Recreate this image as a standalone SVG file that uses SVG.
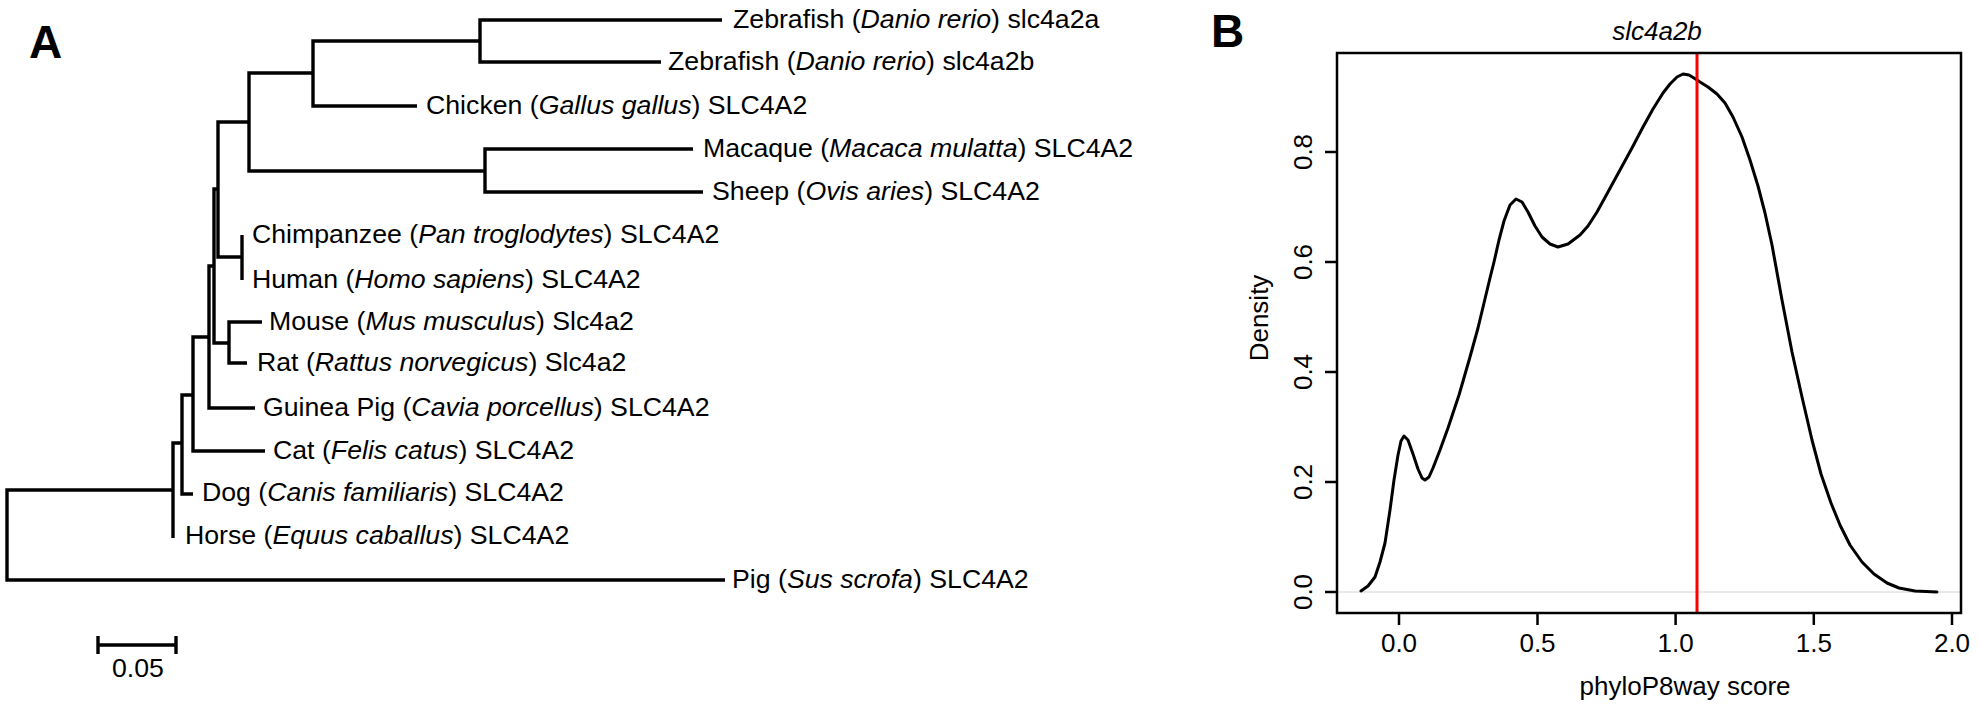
<svg xmlns="http://www.w3.org/2000/svg" width="1980" height="709" viewBox="0 0 1980 709">
<style>
text{font-family:"Liberation Sans",Arial,sans-serif;fill:#000}
.lbl{font-size:26px}
.leaf{font-size:26.7px}
.it{font-style:italic}
.panel{font-size:46px;font-weight:bold}
.br{fill:none;stroke:#000;stroke-width:3.4;stroke-linejoin:miter;stroke-linecap:butt}
.ax{fill:none;stroke:#000;stroke-width:2.5}
</style>
<rect width="1980" height="709" fill="#fff"/>
<text class="panel" x="29" y="58">A</text>
<text class="panel" x="1211" y="47">B</text>

<g id="connectors" class="br">
<path d="M722 20H480V62H661"/>
<path d="M480 41H313V106H417"/>
<path d="M693 149H485V192H703"/>
<path d="M313 73H249V171H485"/>
<path d="M242 235V280"/>
<path d="M249 122H218V257H242"/>
<path d="M262 322H229V363H247"/>
<path d="M218 189H214V343H229"/>
<path d="M214 266H209V408H255"/>
<path d="M209 337H193V451H265"/>
<path d="M193 395H182V494H193"/>
<path d="M182 443H173V538"/>
<path d="M173 490H7V580H725"/>
</g>

<g id="leaf-zebrafish-a"><text class="leaf" x="733" y="28">Zebrafish (<tspan class="it">Danio rerio</tspan>) slc4a2a</text></g>
<g id="leaf-zebrafish-b"><text class="leaf" x="668" y="70">Zebrafish (<tspan class="it">Danio rerio</tspan>) slc4a2b</text></g>
<g id="leaf-chicken"><text class="leaf" x="426" y="114">Chicken (<tspan class="it">Gallus gallus</tspan>) SLC4A2</text></g>
<g id="leaf-macaque"><text class="leaf" x="703" y="157">Macaque (<tspan class="it">Macaca mulatta</tspan>) SLC4A2</text></g>
<g id="leaf-sheep"><text class="leaf" x="712" y="200">Sheep (<tspan class="it">Ovis aries</tspan>) SLC4A2</text></g>
<g id="leaf-chimpanzee"><text class="leaf" x="252" y="243">Chimpanzee (<tspan class="it">Pan troglodytes</tspan>) SLC4A2</text></g>
<g id="leaf-human"><text class="leaf" x="252" y="288">Human (<tspan class="it">Homo sapiens</tspan>) SLC4A2</text></g>
<g id="leaf-mouse"><text class="leaf" x="269" y="330">Mouse (<tspan class="it">Mus musculus</tspan>) Slc4a2</text></g>
<g id="leaf-rat"><text class="leaf" x="257" y="371">Rat (<tspan class="it">Rattus norvegicus</tspan>) Slc4a2</text></g>
<g id="leaf-guinea-pig"><text class="leaf" x="263" y="416">Guinea Pig (<tspan class="it">Cavia porcellus</tspan>) SLC4A2</text></g>
<g id="leaf-cat"><text class="leaf" x="273" y="459">Cat (<tspan class="it">Felis catus</tspan>) SLC4A2</text></g>
<g id="leaf-dog"><text class="leaf" x="202" y="501">Dog (<tspan class="it">Canis familiaris</tspan>) SLC4A2</text></g>
<g id="leaf-horse"><text class="leaf" x="185" y="544">Horse (<tspan class="it">Equus caballus</tspan>) SLC4A2</text></g>
<g id="leaf-pig"><text class="leaf" x="732" y="588">Pig (<tspan class="it">Sus scrofa</tspan>) SLC4A2</text></g>

<g id="scale-bar">
<path class="br" d="M98 645H176M98 636V654M176 636V654"/>
<text class="leaf" x="138" y="677" text-anchor="middle">0.05</text>
</g>

<g id="density-plot">
<line x1="1337" y1="592" x2="1961" y2="592" stroke="#d4d4d4" stroke-width="1"/>
<polyline fill="none" stroke="#000" stroke-width="3" stroke-linejoin="round" stroke-linecap="round" points="1361,591 1368,586 1375,577 1380,562 1385,543 1390,510 1394,480 1398,455 1401,441 1404,436 1408,440 1413,454 1418,469 1422,478 1425,480 1429,477 1433,468 1440,450 1448,428 1459,395 1470,357 1478,328 1484,303 1490,278 1494,262 1499,240 1504,221 1510,205 1516,199 1522,202 1528,212 1535,226 1542,237 1550,244 1558,247 1568,244 1580,235 1588,226 1597,212 1608,192 1620,170 1632,148 1643,127 1653,109 1663,93 1670,84 1677,77 1683,74 1689,75 1694,78 1700,82 1708,87 1717,94 1725,103 1733,117 1742,137 1750,160 1758,186 1765,213 1772,245 1782,300 1792,352 1802,397 1812,440 1821,474 1831,503 1840,525 1850,545 1862,562 1874,574 1887,583 1899,588 1915,591 1937,592"/>
<line x1="1697" y1="53" x2="1697" y2="613" stroke="#ff0000" stroke-width="3"/>
<rect class="ax" x="1337" y="53" width="624" height="560"/>
<path class="ax" d="M1325 592H1337M1325 482H1337M1325 372H1337M1325 262H1337M1325 152H1337"/>
<path class="ax" d="M1399 613V625M1537.5 613V625M1675.6 613V625M1813.8 613V625M1952 613V625"/>
<g class="lbl" text-anchor="middle">
<text transform="translate(1312 592) rotate(-90)">0.0</text>
<text transform="translate(1312 482) rotate(-90)">0.2</text>
<text transform="translate(1312 372) rotate(-90)">0.4</text>
<text transform="translate(1312 262) rotate(-90)">0.6</text>
<text transform="translate(1312 152) rotate(-90)">0.8</text>
<text x="1399" y="652">0.0</text>
<text x="1537.5" y="652">0.5</text>
<text x="1675.6" y="652">1.0</text>
<text x="1813.8" y="652">1.5</text>
<text x="1952" y="652">2.0</text>
<text x="1685" y="695">phyloP8way score</text>
<text transform="translate(1268 318) rotate(-90)">Density</text>
<text class="it" x="1657" y="40">slc4a2b</text>
</g>
</g>
</svg>
